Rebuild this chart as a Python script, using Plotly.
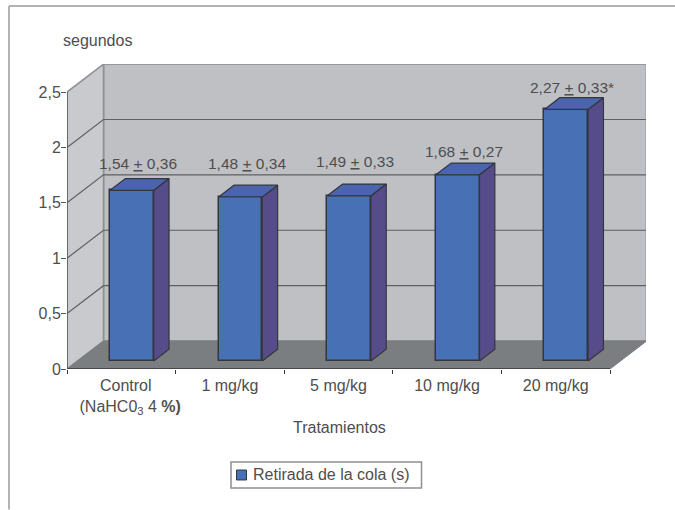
import plotly.graph_objects as go

# ---- data ----
categories = ["&nbsp;&nbsp;Control<br>&nbsp;&nbsp;&nbsp;&nbsp;(NaHC0<sub>3</sub> 4 <b>%)</b>", "1 mg/kg", "5 mg/kg", "10 mg/kg", "20 mg/kg"]
values = [1.54, 1.48, 1.49, 1.68, 2.27]
errors = ["0,36", "0,34", "0,33", "0,27", "0,33"]
value_text = ["1,54", "1,48", "1,49", "1,68", "2,27"]
suffix = ["", "", "", "", "*"]
y_ticks = [0, 0.5, 1, 1.5, 2, 2.5]
y_tick_text = ["0", "0,5", "1", "1,5", "2", "2,5"]
series_name = "Retirada de la cola (s)"

# ---- 3D-look geometry, in axis units ----
PX_X, PX_Y = 108.6, 111.0
DEPTH_X, DEPTH_Y = 36.5 / PX_X, 28.0 / PX_Y
Z0, Z1 = 0.29, 0.71
BAR_W = 0.402
N = len(categories)
YMAX = 2.5
label_lift = [0.135, 0.195, 0.205, 0.105, 0.09]
L, R, T, B = 67.0, 646.0, 63.7, 369.3

FONT = "Liberation Sans"
TXT = "#4E4E4E"
WALL, SIDE, FLOOR = "#BFC0C4", "#C9CACD", "#7A7E80"
FRONT, BSIDE, BTOP = "#4870B4", "#574C8A", "#4A64AE"
EDGE = "#33363C"
GRID = "#5E6062"


def p(x, y, z):
    return x + z * DEPTH_X, y + z * DEPTH_Y


def px(xp):
    return (xp - L) / (R - L)


def py(yp):
    return (B - yp) / (B - T)


def poly(pts, fill, line=None, width=1):
    path = "M " + " L ".join(f"{a},{b}" for a, b in pts) + " Z"
    return dict(type="path", path=path, xref="x", yref="y", layer="below",
                fillcolor=fill, line=dict(color=line or fill, width=width))


shapes = [
    poly([p(0, 0, 1), p(N, 0, 1), p(N, YMAX, 1), p(0, YMAX, 1)], WALL, "#96979B", 2),
    poly([p(0, 0, 0), p(0, 0, 1), p(0, YMAX, 1), p(0, YMAX, 0)], SIDE, "#8F9094", 1.5),
]
for t in y_ticks[1:-1]:
    a, b, c = p(0, t, 0), p(0, t, 1), p(N, t, 1)
    shapes.append(dict(type="path", path=f"M {a[0]},{a[1]} L {b[0]},{b[1]} L {c[0]},{c[1]}",
                       xref="x", yref="y", layer="below", line=dict(color=GRID, width=1.2)))
shapes.append(poly([p(0, 0, 0), p(N, 0, 0), p(N, 0, 1), p(0, 0, 1)], FLOOR, FLOOR))
a, b = p(0, 0, 0), p(0, YMAX, 0)
shapes.append(dict(type="line", x0=a[0], y0=a[1], x1=b[0], y1=b[1], xref="x", yref="y",
                   layer="below", line=dict(color="#55585C", width=1.5)))
shapes.append(dict(type="line", x0=0, y0=0, x1=N, y1=0, xref="x", yref="y",
                   layer="below", line=dict(color="#33363A", width=1.5)))
# outer frame of the picture
shapes.append(dict(type="line", xref="paper", yref="paper", x0=px(9), x1=px(675), y0=py(5.5), y1=py(5.5),
                   line=dict(color="#9A9A9A", width=1.5)))
shapes.append(dict(type="line", xref="paper", yref="paper", x0=px(9), x1=px(9), y0=py(5.5), y1=py(510),
                   line=dict(color="#9A9A9A", width=1.5)))
# legend box and swatch
shapes.append(dict(type="rect", xref="paper", yref="paper", x0=px(231), x1=px(421.5), y0=py(462.5), y1=py(488.5),
                   fillcolor="white", line=dict(color="#8F8F8F", width=1.5)))
shapes.append(dict(type="rect", xref="paper", yref="paper", x0=px(236.5), x1=px(246.5), y0=py(470.5), y1=py(480.5),
                   fillcolor=FRONT, line=dict(color=EDGE, width=1)))

fig = go.Figure()
centers = [i + 0.5 for i in range(N)]
fx = [p(c, 0, Z0)[0] for c in centers]
base_y = p(0, 0, Z0)[1]
fig.add_trace(go.Bar(x=fx, y=values, base=[base_y] * N, width=BAR_W, name=series_name,
                     marker=dict(color=FRONT, line=dict(color=EDGE, width=1.5)),
                     hoverinfo="skip", showlegend=False))

for c, v in zip(centers, values):
    l, r = c - BAR_W / 2, c + BAR_W / 2
    side = [p(r, 0, Z0), p(r, 0, Z1), p(r, v, Z1), p(r, v, Z0), p(r, 0, Z0)]
    top = [p(l, v, Z0), p(r, v, Z0), p(r, v, Z1), p(l, v, Z1), p(l, v, Z0)]
    for pts, col in ((side, BSIDE), (top, BTOP)):
        fig.add_trace(go.Scatter(x=[q[0] for q in pts], y=[q[1] for q in pts], mode="lines",
                                 fill="toself", fillcolor=col, line=dict(color=EDGE, width=1.2),
                                 showlegend=False, hoverinfo="skip"))

annotations = []
for c, v, vt, e, s, lift in zip(centers, values, value_text, errors, suffix, label_lift):
    x, y = p(c + BAR_W / 2, v, Z1)
    annotations.append(dict(x=x - BAR_W / 2 - 0.085, y=y + lift, xref="x", yref="y",
                            xanchor="center", yanchor="middle",
                            text=f"{vt} <u>+</u> {e}{s}", showarrow=False,
                            font=dict(family=FONT, size=15.5, color=TXT)))
for txt, xp, yp, xa in (("segundos", 97.5, 40, "center"), ("Tratamientos", 339.5, 428, "center"),
                        (series_name, 250.5, 475.5, "left")):
    annotations.append(dict(x=px(xp), y=py(yp), xref="paper", yref="paper", xanchor=xa, yanchor="middle",
                            text=txt, showarrow=False, font=dict(family=FONT, size=16, color=TXT)))

fig.update_layout(
    width=675, height=510, autosize=False,
    margin=dict(l=L, r=675 - R, t=T, b=510 - B),
    paper_bgcolor="white", plot_bgcolor="white",
    font=dict(family=FONT, size=16, color=TXT),
    shapes=shapes, annotations=annotations, bargap=0,
    showlegend=False,
    xaxis=dict(range=[0, (R - L) / PX_X], tickmode="array", tickvals=centers, ticktext=categories,
               ticks="", showgrid=False, zeroline=False, showline=False, tickfont=dict(size=16, color=TXT),
               ticklabelstandoff=5,
               minor=dict(tickmode="array", tickvals=list(range(N + 1)), ticks="outside", ticklen=4,
                          tickcolor="#33363A", tickwidth=1)),
    yaxis=dict(range=[0, (B - T) / PX_Y], tickmode="array", tickvals=y_ticks, ticktext=y_tick_text,
               ticks="outside", ticklen=5, tickcolor="#55585C", showgrid=False, zeroline=False,
               showline=False, tickfont=dict(size=16, color=TXT), ticklabelstandoff=-3),
)
fig.write_html("out.html", config=dict(displayModeBar=False),
               post_script="document.body.style.margin='0';document.documentElement.style.overflow='hidden';")
